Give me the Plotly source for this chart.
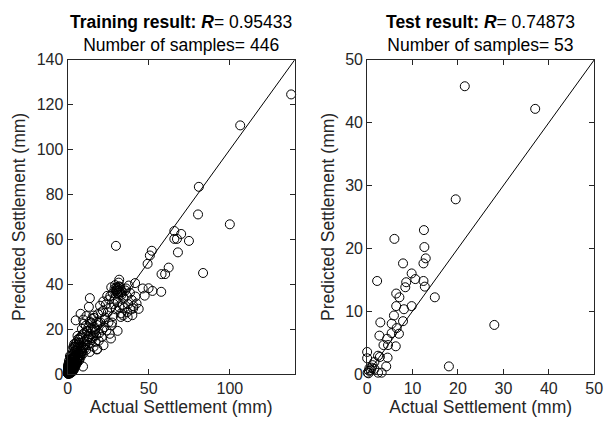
import plotly.graph_objects as go

# ---------------- data ----------------
train_x = [
    0.2, 0.4, 0.5, 0.7, 0.9, 1.1, 0.3, 0.6, 1.3, 1.5, 0.8, 1.0, 1.8, 2.0, 0.4, 1.2, 2.3, 1.6, 0.1, 0.9,
    2.5, 2.8, 3.0, 1.4, 0.6, 3.3, 2.1, 1.7, 3.6, 2.6, 0.3, 1.1, 3.9, 2.4, 4.2, 0.7, 1.9, 3.1, 4.5, 2.9,
    0.5, 1.3, 2.2, 3.4, 4.0, 4.8, 5.1, 1.0, 2.7, 3.8, 5.5, 0.2, 1.6, 4.4, 5.8, 3.2, 2.0, 6.0, 0.8, 4.9,
    5.3, 6.4, 6.8, 7.1, 3.6, 4.6, 7.5, 5.9, 2.5, 6.2, 7.9, 8.3, 1.4, 3.0, 5.0, 6.6, 8.7, 4.1, 7.2, 9.0,
    8.0, 9.4, 9.8, 10.1, 6.9, 7.7, 10.6, 11.0, 8.5, 5.6, 11.4, 12.0, 9.2, 4.3, 10.3, 12.5, 6.1, 13.0, 11.8, 8.8,
    13.5, 14.0, 12.8, 14.8, 15.3, 11.2, 10.0, 15.9, 16.4, 13.7, 12.2, 17.0, 9.6, 14.5, 17.6, 16.1, 18.2, 15.0, 11.6, 18.9,
    0.1, 0.2, 0.3, 0.5, 0.6, 0.8, 1.0, 1.2, 0.4, 0.7, 0.9, 1.1, 1.4, 1.6, 0.3, 0.2, 0.5, 0.1, 1.8, 2.1,
    2.2, 2.6, 3.1, 3.5, 1.5, 1.9, 2.4, 0.9, 3.7, 4.1, 2.8, 0.6, 1.2, 3.3, 4.7, 5.2, 2.0, 0.4, 1.7, 3.9,
    4.3, 5.7, 6.3, 3.0, 4.6, 7.0, 5.4, 6.7, 2.3, 7.6, 8.2, 6.0, 4.0, 8.9, 9.5, 7.3, 5.1, 10.4, 3.6, 6.5,
    19.5, 20.3, 21.0, 22.4, 23.1, 24.0, 18.7, 21.8, 25.2, 26.0, 20.0, 22.9, 27.1, 24.8, 19.2, 23.6, 28.0, 26.7, 21.3, 25.6,
    27.8, 29.0, 30.1, 28.4, 31.2, 32.0, 29.7, 26.3, 33.4, 30.8, 34.5, 31.9, 29.3, 35.6, 32.8, 28.9, 36.4, 33.9, 30.5, 27.4,
    37.3, 38.4, 35.0, 39.5, 36.8, 40.6, 34.2, 38.9, 41.8, 37.7, 33.0, 42.5, 39.9, 36.0, 43.8, 31.5, 26.9, 24.4, 22.0, 20.7,
    30.4, 31.1, 31.7, 32.3, 30.9, 31.5, 32.6, 29.8, 30.2, 33.1, 16.0, 17.2, 15.4, 18.0, 16.8, 14.3, 17.8, 13.6, 15.8, 12.9,
    29.8, 65.8, 70.0, 74.8, 65.8, 67.4, 68.0, 51.9, 50.7, 49.3, 62.3, 57.9, 60.1, 41.6, 31.8, 46.3, 49.9, 52.3, 57.7, 47.5,
    40.4, 13.7, 37.0, 30.8, 26.7, 22.1, 5.0, 8.0, 13.1, 18.3, 9.5, 137.8, 106.4, 80.9, 80.4, 100.0, 83.5,
]
train_y = [
    0.1, 0.6, 0.3, 1.2, 0.5, 1.6, 0.9, 0.2, 2.1, 0.8, 1.9, 2.8, 1.4, 2.6, 1.7, 0.4, 3.1, 2.2, 0.5, 3.4,
    1.2, 3.6, 2.4, 4.1, 2.5, 3.0, 4.4, 0.9, 4.8, 2.0, 1.3, 3.7, 3.5, 5.2, 4.6, 4.0, 5.6, 1.5, 5.4, 6.1,
    3.0, 5.0, 6.3, 4.1, 6.8, 3.9, 5.9, 4.7, 7.0, 7.4, 4.6, 2.2, 6.5, 8.1, 6.9, 5.6, 7.8, 5.2, 5.8, 7.7,
    8.6, 7.1, 9.3, 6.0, 9.0, 10.2, 8.4, 10.8, 8.9, 11.5, 7.3, 9.8, 8.0, 11.0, 12.3, 12.9, 11.2, 13.4, 13.8, 10.1,
    12.6, 9.0, 12.0, 14.5, 15.2, 16.0, 11.3, 13.1, 16.8, 14.2, 10.7, 15.5, 17.6, 12.0, 18.3, 12.8, 17.0, 16.4, 19.2, 20.1,
    13.9, 17.8, 20.7, 15.1, 19.6, 21.5, 22.4, 16.9, 21.0, 23.3, 18.9, 19.9, 24.2, 22.7, 17.2, 25.0, 21.8, 24.6, 25.8, 23.0,
    0.2, 0.4, 0.1, 0.7, 1.0, 1.3, 0.6, 0.9, 1.5, 1.8, 0.3, 2.3, 1.1, 0.7, 2.7, 3.6, 4.3, 1.0, 3.0, 2.0,
    0.6, 0.9, 1.1, 1.7, 0.2, 1.0, 1.8, 0.1, 2.7, 2.2, 2.9, 0.4, 0.3, 3.3, 3.1, 4.3, 3.9, 2.4, 4.9, 4.4,
    5.8, 5.1, 6.2, 6.6, 7.2, 7.6, 9.5, 8.2, 7.4, 10.3, 8.5, 12.1, 11.8, 10.0, 11.6, 14.0, 13.6, 12.5, 12.2, 15.6,
    18.2, 22.9, 16.5, 20.8, 25.2, 19.4, 26.7, 28.1, 23.0, 17.9, 30.4, 24.3, 21.6, 27.5, 14.8, 31.0, 25.8, 29.6, 19.7, 33.2,
    36.0, 33.5, 37.6, 31.2, 35.4, 38.9, 28.8, 34.7, 36.6, 32.0, 33.8, 29.7, 39.6, 37.2, 25.4, 37.9, 34.9, 30.6, 36.3, 22.9,
    31.1, 36.2, 29.4, 33.0, 27.6, 30.2, 26.1, 28.7, 34.5, 39.4, 27.0, 31.4, 26.2, 38.1, 29.0, 40.7, 38.6, 34.8, 32.3, 27.4,
    37.8, 38.3, 37.1, 36.4, 35.9, 39.0, 37.7, 36.9, 38.6, 35.2, 12.1, 14.3, 16.3, 10.9, 18.7, 20.2, 23.2, 9.8, 26.0, 16.9,
    57.1, 63.7, 62.4, 59.3, 60.2, 60.2, 54.2, 54.9, 52.8, 49.1, 47.4, 44.5, 44.5, 40.5, 42.0, 38.1, 38.2, 37.0, 36.6, 34.9,
    29.2, 33.8, 25.3, 19.2, 15.8, 12.8, 23.9, 26.8, 29.9, 11.1, 3.3, 124.6, 110.8, 83.4, 71.1, 66.7, 45.0,
]

test_x = [
    21.5, 37.0, 19.5, 12.5, 6.0, 12.6, 12.9, 12.4, 7.9, 9.8, 10.6, 12.4, 8.6, 2.2, 8.4, 12.7, 6.4, 7.1,
    14.9, 6.4, 9.8, 8.1, 5.9, 7.9, 2.9, 5.4, 28.0, 6.5, 7.0, 5.4, 2.7, 4.4, 3.6, 4.6, 6.3, 2.4, 2.8,
    4.5, 0.0, 0.0, 18.0, 4.2, 1.6, 1.2, 0.5, 1.6, 0.4, 0.1, 2.4, 3.2, 0.8, 1.0, 0.3,
]
test_y = [
    45.8, 42.2, 27.8, 22.9, 21.5, 20.2, 18.4, 17.6, 17.6, 16.0, 15.1, 14.8, 14.6, 14.8, 13.8, 13.9, 12.8, 12.2,
    12.2, 10.8, 10.8, 10.3, 9.3, 8.4, 8.2, 8.0, 7.8, 7.3, 6.4, 6.5, 6.1, 5.6, 4.6, 4.6, 4.4, 2.9, 2.7,
    2.6, 3.5, 2.5, 1.2, 1.2, 1.9, 1.4, 0.9, 0.8, 0.5, 0.2, 0.2, 0.2, 0.6, 1.0, 0.1,
]

train_title = "<b>Training result: <i>R</i></b>= 0.95433<br>Number of samples= 446"
test_title = "<b>Test result: <i>R</i></b>= 0.74873<br>Number of samples= 53"
x_label = "Actual Settlement (mm)"
y_label = "Predicted Settlement (mm)"
train_range = [0, 140]
test_range = [0, 50]
train_xticks = [0, 50, 100]
train_yticks = [0, 20, 40, 60, 80, 100, 120, 140]
test_ticks = [0, 10, 20, 30, 40, 50]

# ---------------- figure ----------------
W, H = 614, 430
FONT = "Liberation Sans, Arial, sans-serif"
AX = "#262626"

fig = go.Figure()

marker = dict(symbol="circle-open", size=9, color="black", line=dict(width=1, color="black"))

fig.add_trace(go.Scatter(x=train_range, y=train_range, mode="lines",
                         line=dict(color="black", width=1), xaxis="x", yaxis="y", showlegend=False))
fig.add_trace(go.Scatter(x=train_x, y=train_y, mode="markers", marker=marker,
                         xaxis="x", yaxis="y", showlegend=False, cliponaxis=False))
fig.add_trace(go.Scatter(x=test_range, y=test_range, mode="lines",
                         line=dict(color="black", width=1), xaxis="x2", yaxis="y2", showlegend=False))
fig.add_trace(go.Scatter(x=test_x, y=test_y, mode="markers", marker=marker,
                         xaxis="x2", yaxis="y2", showlegend=False, cliponaxis=False))

box_top, box_bot = 54, 381
ydom = [(H - box_bot) / H, (H - box_top) / H]
left_dom = [65 / W, 297 / W]
right_dom = [371 / W, 603 / W]

def axis_common():
    return dict(showgrid=False, zeroline=False, showline=True, linecolor=AX, linewidth=1,
                mirror="ticks", ticks="inside", ticklen=5, tickcolor=AX, tickwidth=1,
                tickfont=dict(family=FONT, size=16, color=AX),
                title_font=dict(family=FONT, size=17.5, color=AX))

fig.update_layout(
    width=W, height=H, margin=dict(l=0, r=0, t=0, b=0),
    paper_bgcolor="white", plot_bgcolor="white",
    font=dict(family=FONT, color="black"),
    xaxis=dict(domain=left_dom, range=train_range, tickvals=train_xticks, anchor="y",
               title=dict(text=x_label, standoff=3), **axis_common()),
    yaxis=dict(domain=ydom, range=train_range, tickvals=train_yticks, anchor="x",
               title=dict(text=y_label, standoff=6), **axis_common()),
    xaxis2=dict(domain=right_dom, range=test_range, tickvals=test_ticks, anchor="y2",
                title=dict(text=x_label, standoff=3), **axis_common()),
    yaxis2=dict(domain=ydom, range=test_range, tickvals=test_ticks, anchor="x2",
                title=dict(text=y_label, standoff=6), **axis_common()),
)

for dom, txt in ((left_dom, train_title), (right_dom, test_title)):
    fig.add_annotation(text=txt, xref="paper", yref="paper",
                       x=(dom[0] + dom[1]) / 2, y=(H - box_top + 3) / H,
                       xanchor="center", yanchor="bottom", showarrow=False,
                       font=dict(family=FONT, size=17.5, color="black"), align="center")

fig.write_html("out.html", config={"displayModeBar": False},
               post_script="document.body.style.margin='0';document.body.style.overflow='hidden';")
